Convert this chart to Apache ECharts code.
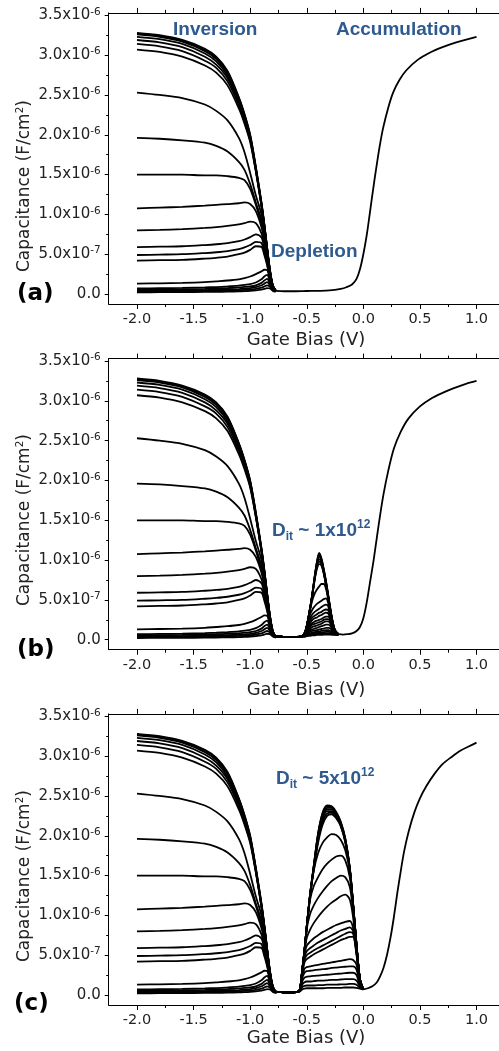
<!DOCTYPE html>
<html>
<head>
<meta charset="utf-8">
<script src="https://cdn.jsdelivr.net/npm/echarts@6/dist/echarts.min.js"></script>
<style>
  html, body { margin: 0; padding: 0; background: #fff; }
  #chart { width: 499px; height: 1051px; }
</style>
</head>
<body>
<div id="chart"></div>
<script>
// Multi-frequency C-V sweeps of a MOS capacitor, three interface-trap densities.
// Capacitance values are in units of 1e-6 F/cm^2.

// ---- Inversion / steep depletion side (shared by all three panels) ----
const gateBiasInversion = [-2.0, -1.8, -1.6, -1.4, -1.3, -1.2, -1.1, -1.05, -1.0, -0.95, -0.9, -0.875, -0.85, -0.825, -0.8, -0.775];
const inversionCurves = [
  [3.28, 3.25, 3.19, 3.08, 2.98, 2.80, 2.47, 2.26, 2.00, 1.60, 1.15, 0.88, 0.58, 0.30, 0.11, 0.045],
  [3.27, 3.24, 3.18, 3.07, 2.97, 2.79, 2.46, 2.25, 1.99, 1.59, 1.14, 0.87, 0.58, 0.30, 0.11, 0.045],
  [3.26, 3.23, 3.17, 3.05, 2.95, 2.77, 2.45, 2.24, 1.98, 1.58, 1.13, 0.87, 0.57, 0.29, 0.11, 0.045],
  [3.23, 3.20, 3.14, 3.02, 2.92, 2.74, 2.43, 2.22, 1.97, 1.57, 1.12, 0.86, 0.57, 0.29, 0.10, 0.045],
  [3.19, 3.16, 3.10, 2.98, 2.88, 2.71, 2.40, 2.20, 1.95, 1.56, 1.12, 0.86, 0.56, 0.29, 0.10, 0.045],
  [3.14, 3.11, 3.05, 2.93, 2.84, 2.67, 2.37, 2.17, 1.93, 1.55, 1.11, 0.85, 0.56, 0.28, 0.10, 0.045],
  [3.07, 3.04, 2.98, 2.87, 2.78, 2.62, 2.33, 2.14, 1.91, 1.54, 1.10, 0.84, 0.55, 0.28, 0.10, 0.045],
  [2.53, 2.50, 2.46, 2.38, 2.30, 2.18, 1.96, 1.78, 1.52, 1.24, 1.00, 0.78, 0.52, 0.26, 0.09, 0.04],
  [1.96, 1.95, 1.93, 1.90, 1.86, 1.79, 1.66, 1.56, 1.38, 1.15, 0.93, 0.74, 0.50, 0.25, 0.09, 0.04],
  [1.50, 1.50, 1.50, 1.49, 1.49, 1.48, 1.46, 1.43, 1.32, 1.12, 0.88, 0.71, 0.49, 0.25, 0.09, 0.04],
  [1.075, 1.085, 1.095, 1.11, 1.12, 1.13, 1.14, 1.15, 1.13, 1.04, 0.84, 0.68, 0.47, 0.24, 0.09, 0.04],
  [0.80, 0.805, 0.815, 0.83, 0.84, 0.855, 0.875, 0.89, 0.91, 0.89, 0.76, 0.61, 0.43, 0.22, 0.08, 0.04],
  [0.59, 0.595, 0.60, 0.615, 0.625, 0.64, 0.665, 0.685, 0.715, 0.75, 0.71, 0.58, 0.41, 0.21, 0.08, 0.04],
  [0.49, 0.495, 0.50, 0.515, 0.525, 0.54, 0.565, 0.585, 0.615, 0.655, 0.64, 0.53, 0.38, 0.20, 0.08, 0.04],
  [0.42, 0.425, 0.43, 0.445, 0.455, 0.47, 0.50, 0.52, 0.555, 0.60, 0.59, 0.49, 0.36, 0.19, 0.08, 0.04],
  [0.13, 0.135, 0.14, 0.15, 0.16, 0.17, 0.185, 0.20, 0.22, 0.25, 0.285, 0.305, 0.30, 0.19, 0.08, 0.04],
  [0.07, 0.073, 0.077, 0.083, 0.088, 0.095, 0.105, 0.115, 0.125, 0.145, 0.185, 0.22, 0.24, 0.16, 0.07, 0.04],
  [0.055, 0.057, 0.06, 0.065, 0.069, 0.075, 0.083, 0.089, 0.095, 0.11, 0.14, 0.17, 0.19, 0.13, 0.06, 0.035],
  [0.042, 0.044, 0.046, 0.05, 0.053, 0.057, 0.063, 0.068, 0.074, 0.087, 0.11, 0.13, 0.15, 0.11, 0.055, 0.035],
  [0.032, 0.033, 0.035, 0.038, 0.04, 0.043, 0.048, 0.052, 0.057, 0.066, 0.08, 0.095, 0.11, 0.09, 0.05, 0.03],
  [0.022, 0.023, 0.024, 0.026, 0.028, 0.03, 0.033, 0.036, 0.04, 0.046, 0.055, 0.065, 0.075, 0.07, 0.04, 0.03]
];

// ---- Panel (b): interface-trap peak, Dit ~ 1e12 ----
const gateBiasPeakB = [-0.75, -0.7, -0.6, -0.55, -0.52, -0.5, -0.47, -0.45, -0.43, -0.41, -0.39, -0.37, -0.35, -0.33, -0.31, -0.29, -0.27, -0.25, -0.22];
const peakCurvesB = [
  [0.04, 0.035, 0.035, 0.04, 0.08, 0.17, 0.40, 0.58, 0.79, 0.98, 1.09, 1.02, 0.89, 0.74, 0.56, 0.38, 0.22, 0.12, 0.07],
  [0.04, 0.035, 0.035, 0.04, 0.08, 0.17, 0.40, 0.58, 0.79, 0.97, 1.08, 1.01, 0.88, 0.73, 0.55, 0.37, 0.22, 0.12, 0.07],
  [0.04, 0.035, 0.035, 0.04, 0.08, 0.17, 0.40, 0.58, 0.79, 0.96, 1.06, 1.00, 0.87, 0.72, 0.55, 0.37, 0.21, 0.11, 0.07],
  [0.04, 0.035, 0.035, 0.04, 0.08, 0.17, 0.40, 0.58, 0.78, 0.95, 1.04, 0.99, 0.86, 0.71, 0.54, 0.36, 0.21, 0.11, 0.07],
  [0.04, 0.035, 0.035, 0.04, 0.08, 0.17, 0.40, 0.57, 0.77, 0.93, 1.01, 0.97, 0.85, 0.70, 0.53, 0.36, 0.21, 0.11, 0.07],
  [0.04, 0.035, 0.035, 0.04, 0.08, 0.17, 0.39, 0.57, 0.76, 0.91, 0.98, 0.95, 0.84, 0.69, 0.53, 0.35, 0.20, 0.11, 0.07],
  [0.04, 0.035, 0.035, 0.04, 0.08, 0.17, 0.39, 0.56, 0.75, 0.89, 0.95, 0.93, 0.83, 0.68, 0.52, 0.35, 0.20, 0.11, 0.07],
  [0.04, 0.035, 0.035, 0.04, 0.08, 0.17, 0.38, 0.50, 0.58, 0.63, 0.67, 0.70, 0.70, 0.64, 0.50, 0.34, 0.20, 0.11, 0.07],
  [0.04, 0.035, 0.035, 0.04, 0.08, 0.16, 0.32, 0.38, 0.42, 0.45, 0.47, 0.49, 0.51, 0.52, 0.46, 0.32, 0.19, 0.10, 0.07],
  [0.04, 0.035, 0.035, 0.04, 0.07, 0.14, 0.27, 0.32, 0.35, 0.37, 0.39, 0.41, 0.43, 0.44, 0.42, 0.30, 0.18, 0.10, 0.07],
  [0.04, 0.035, 0.035, 0.04, 0.07, 0.13, 0.24, 0.28, 0.30, 0.32, 0.34, 0.35, 0.37, 0.38, 0.37, 0.28, 0.17, 0.10, 0.07],
  [0.04, 0.035, 0.035, 0.04, 0.07, 0.12, 0.21, 0.25, 0.27, 0.28, 0.30, 0.31, 0.33, 0.34, 0.33, 0.26, 0.16, 0.09, 0.07],
  [0.04, 0.035, 0.035, 0.04, 0.06, 0.11, 0.18, 0.21, 0.23, 0.24, 0.25, 0.26, 0.28, 0.29, 0.29, 0.24, 0.15, 0.09, 0.07],
  [0.04, 0.035, 0.035, 0.04, 0.06, 0.10, 0.16, 0.19, 0.20, 0.21, 0.22, 0.23, 0.25, 0.26, 0.26, 0.22, 0.14, 0.09, 0.07],
  [0.04, 0.035, 0.035, 0.04, 0.06, 0.09, 0.14, 0.16, 0.17, 0.18, 0.19, 0.20, 0.22, 0.23, 0.23, 0.20, 0.13, 0.08, 0.07],
  [0.04, 0.035, 0.035, 0.04, 0.05, 0.08, 0.12, 0.13, 0.14, 0.15, 0.16, 0.17, 0.18, 0.19, 0.19, 0.17, 0.12, 0.08, 0.065],
  [0.04, 0.035, 0.035, 0.04, 0.05, 0.07, 0.10, 0.11, 0.115, 0.12, 0.13, 0.135, 0.14, 0.15, 0.15, 0.14, 0.10, 0.075, 0.065],
  [0.04, 0.035, 0.035, 0.04, 0.045, 0.06, 0.08, 0.09, 0.095, 0.10, 0.105, 0.11, 0.115, 0.12, 0.12, 0.11, 0.09, 0.07, 0.065],
  [0.04, 0.035, 0.035, 0.04, 0.045, 0.055, 0.07, 0.075, 0.08, 0.085, 0.09, 0.09, 0.095, 0.10, 0.10, 0.095, 0.08, 0.07, 0.065],
  [0.04, 0.035, 0.035, 0.04, 0.04, 0.05, 0.06, 0.065, 0.07, 0.07, 0.075, 0.075, 0.08, 0.08, 0.08, 0.08, 0.07, 0.065, 0.06],
  [0.04, 0.035, 0.035, 0.04, 0.04, 0.045, 0.05, 0.055, 0.055, 0.06, 0.06, 0.06, 0.065, 0.065, 0.065, 0.065, 0.06, 0.06, 0.06]
];

// ---- Panel (c): interface-trap peak, Dit ~ 5e12 ----
const gateBiasPeakC = [-0.75, -0.7, -0.62, -0.58, -0.56, -0.54, -0.52, -0.5, -0.47, -0.44, -0.4, -0.36, -0.32, -0.28, -0.24, -0.2, -0.16, -0.12, -0.09, -0.06, -0.03, 0.0];
const peakCurvesC = [
  [0.04, 0.035, 0.035, 0.04, 0.07, 0.31, 0.56, 0.86, 1.27, 1.60, 2.03, 2.29, 2.38, 2.37, 2.30, 2.18, 1.97, 1.60, 1.14, 0.63, 0.20, 0.07],
  [0.04, 0.035, 0.035, 0.04, 0.07, 0.31, 0.56, 0.86, 1.27, 1.60, 2.02, 2.28, 2.37, 2.36, 2.29, 2.17, 1.96, 1.60, 1.14, 0.63, 0.20, 0.07],
  [0.04, 0.035, 0.035, 0.04, 0.07, 0.31, 0.56, 0.86, 1.27, 1.59, 2.01, 2.26, 2.35, 2.35, 2.28, 2.16, 1.96, 1.59, 1.14, 0.63, 0.20, 0.07],
  [0.04, 0.035, 0.035, 0.04, 0.07, 0.31, 0.56, 0.86, 1.26, 1.59, 1.99, 2.24, 2.33, 2.33, 2.27, 2.15, 1.95, 1.59, 1.13, 0.63, 0.20, 0.07],
  [0.04, 0.035, 0.035, 0.04, 0.07, 0.31, 0.56, 0.86, 1.26, 1.58, 1.97, 2.21, 2.31, 2.31, 2.26, 2.14, 1.94, 1.58, 1.13, 0.62, 0.20, 0.07],
  [0.04, 0.035, 0.035, 0.04, 0.07, 0.31, 0.56, 0.86, 1.26, 1.57, 1.94, 2.18, 2.28, 2.29, 2.24, 2.13, 1.93, 1.58, 1.13, 0.62, 0.20, 0.07],
  [0.04, 0.035, 0.035, 0.04, 0.07, 0.31, 0.56, 0.86, 1.25, 1.55, 1.91, 2.14, 2.25, 2.27, 2.22, 2.12, 1.92, 1.57, 1.12, 0.62, 0.20, 0.07],
  [0.04, 0.035, 0.035, 0.04, 0.07, 0.31, 0.56, 0.86, 1.25, 1.55, 1.78, 1.91, 1.98, 2.02, 2.01, 1.95, 1.82, 1.55, 1.12, 0.62, 0.20, 0.07],
  [0.04, 0.035, 0.035, 0.04, 0.07, 0.31, 0.56, 0.85, 1.20, 1.36, 1.48, 1.58, 1.65, 1.70, 1.74, 1.75, 1.69, 1.48, 1.09, 0.61, 0.20, 0.07],
  [0.04, 0.035, 0.035, 0.04, 0.07, 0.31, 0.55, 0.83, 1.02, 1.12, 1.22, 1.30, 1.37, 1.43, 1.47, 1.50, 1.48, 1.36, 1.05, 0.60, 0.20, 0.07],
  [0.04, 0.035, 0.035, 0.04, 0.07, 0.30, 0.54, 0.72, 0.82, 0.90, 0.98, 1.05, 1.11, 1.16, 1.20, 1.24, 1.26, 1.20, 0.97, 0.58, 0.19, 0.07],
  [0.04, 0.035, 0.035, 0.04, 0.07, 0.30, 0.51, 0.62, 0.67, 0.71, 0.75, 0.79, 0.82, 0.85, 0.88, 0.90, 0.92, 0.93, 0.84, 0.55, 0.19, 0.07],
  [0.04, 0.035, 0.035, 0.04, 0.07, 0.29, 0.48, 0.55, 0.59, 0.62, 0.66, 0.69, 0.72, 0.75, 0.78, 0.81, 0.83, 0.85, 0.80, 0.53, 0.18, 0.07],
  [0.04, 0.035, 0.035, 0.04, 0.07, 0.28, 0.44, 0.50, 0.53, 0.56, 0.59, 0.62, 0.65, 0.68, 0.71, 0.74, 0.77, 0.79, 0.77, 0.52, 0.18, 0.07],
  [0.04, 0.035, 0.035, 0.04, 0.07, 0.27, 0.41, 0.45, 0.48, 0.51, 0.54, 0.57, 0.60, 0.63, 0.66, 0.69, 0.71, 0.73, 0.73, 0.50, 0.18, 0.07],
  [0.04, 0.035, 0.035, 0.04, 0.07, 0.24, 0.33, 0.35, 0.36, 0.37, 0.38, 0.39, 0.40, 0.41, 0.42, 0.43, 0.44, 0.45, 0.44, 0.38, 0.15, 0.07],
  [0.04, 0.035, 0.035, 0.04, 0.06, 0.21, 0.28, 0.30, 0.305, 0.31, 0.32, 0.325, 0.33, 0.34, 0.345, 0.35, 0.355, 0.36, 0.36, 0.32, 0.14, 0.07],
  [0.04, 0.035, 0.035, 0.04, 0.06, 0.17, 0.22, 0.23, 0.235, 0.24, 0.245, 0.25, 0.255, 0.26, 0.265, 0.27, 0.275, 0.28, 0.28, 0.25, 0.12, 0.07],
  [0.04, 0.035, 0.035, 0.04, 0.055, 0.13, 0.16, 0.17, 0.17, 0.175, 0.18, 0.18, 0.185, 0.19, 0.19, 0.195, 0.20, 0.20, 0.20, 0.18, 0.11, 0.07],
  [0.04, 0.035, 0.035, 0.04, 0.05, 0.10, 0.115, 0.12, 0.12, 0.12, 0.125, 0.125, 0.13, 0.13, 0.13, 0.135, 0.135, 0.14, 0.14, 0.13, 0.09, 0.07],
  [0.04, 0.035, 0.035, 0.04, 0.045, 0.07, 0.08, 0.085, 0.085, 0.085, 0.085, 0.085, 0.09, 0.09, 0.09, 0.09, 0.095, 0.095, 0.095, 0.09, 0.08, 0.07]
];

// ---- Accumulation branch (single merged curve per panel) ----
const gateBiasAccumA = [-0.775, -0.7, -0.6, -0.5, -0.4, -0.3, -0.2, -0.15, -0.1, -0.06, -0.03, 0.0, 0.03, 0.056, 0.085, 0.115, 0.145, 0.174, 0.22, 0.263, 0.32, 0.38, 0.48, 0.586, 0.7, 0.821, 1.0];
const accumA = [0.04, 0.035, 0.035, 0.038, 0.04, 0.045, 0.065, 0.085, 0.12, 0.19, 0.31, 0.50, 0.74, 1.00, 1.30, 1.59, 1.86, 2.08, 2.34, 2.53, 2.69, 2.81, 2.94, 3.03, 3.10, 3.16, 3.23];
const gateBiasAccumB = [-0.22, -0.18, -0.14, -0.1, -0.06, -0.03, 0.0, 0.03, 0.06, 0.09, 0.12, 0.15, 0.18, 0.22, 0.27, 0.33, 0.4, 0.5, 0.6, 0.7, 0.8, 0.9, 1.0];
const accumB = [0.07, 0.065, 0.07, 0.08, 0.11, 0.16, 0.27, 0.47, 0.73, 0.99, 1.29, 1.58, 1.84, 2.12, 2.40, 2.61, 2.78, 2.93, 3.03, 3.10, 3.16, 3.21, 3.25];
const gateBiasAccumC = [0.0, 0.04, 0.08, 0.12, 0.15, 0.18, 0.21, 0.24, 0.27, 0.3, 0.33, 0.36, 0.4, 0.45, 0.5, 0.56, 0.63, 0.7, 0.78, 0.86, 0.93, 1.0];
const accumC = [0.07, 0.085, 0.11, 0.16, 0.24, 0.35, 0.51, 0.72, 0.98, 1.28, 1.55, 1.80, 2.05, 2.29, 2.47, 2.63, 2.78, 2.90, 2.99, 3.07, 3.12, 3.17];

// ---- Axis ticks and labels ----
const xMajorTicks = [-2.0, -1.5, -1.0, -0.5, 0.0, 0.5, 1.0];
const xMinorTicks = [-1.75, -1.25, -0.75, -0.25, 0.25, 0.75];
const yMajorTicks = [0, 0.5, 1.0, 1.5, 2.0, 2.5, 3.0, 3.5];
const yMinorTicks = [0.25, 0.75, 1.25, 1.75, 2.25, 2.75, 3.25];
const yTickLabels = ['{m|0.0}', '{m|5.0x10}{sup|-7}', '{m|1.0x10}{sup|-6}', '{m|1.5x10}{sup|-6}', '{m|2.0x10}{sup|-6}', '{m|2.5x10}{sup|-6}', '{m|3.0x10}{sup|-6}', '{m|3.5x10}{sup|-6}'];
const panelLetters = ['(a)', '(b)', '(c)'];

// ---- Layout ----
const X_MIN = -2.25, X_MAX = 1.25, Y_MIN = -0.125, Y_MAX = 3.53;
const GRID_LEFT = 108.7, GRID_WIDTH = 396.1, GRID_HEIGHT = 291.1;
const GRID_TOPS = [12.9, 358.6, 713.9];
const AXIS_FONT = 'DejaVu Sans';
const TEXT_COLOR = '#222';
const NOTE_COLOR = '#2f5a8f';

const zip = (xs, ys) => xs.map((x, i) => [x, ys[i]]);

const grids = [], xAxes = [], yAxes = [], series = [];

function tickAxis(p, dim, position, values, len, withLine, labels) {
  const isX = dim === 'x';
  const ax = {
    type: 'value', gridIndex: p, position,
    min: isX ? X_MIN : Y_MIN, max: isX ? X_MAX : Y_MAX,
    axisLine: { show: withLine, onZero: false, lineStyle: { color: '#000', width: 1 } },
    axisTick: { show: true, inside: false, length: len, customValues: values, lineStyle: { color: '#000', width: 1 } },
    splitLine: { show: false },
    axisLabel: { show: false }
  };
  if (labels) {
    ax.axisLabel = isX ? {
      show: true, customValues: values, margin: 8,
      fontFamily: AXIS_FONT, fontSize: 14.5, color: TEXT_COLOR,
      formatter: v => v.toFixed(1)
    } : {
      show: true, customValues: values, margin: 8,
      fontFamily: AXIS_FONT, fontSize: 15, lineHeight: 18, color: TEXT_COLOR,
      formatter: v => yTickLabels[yMajorTicks.indexOf(v)],
      rich: {
        m: { fontFamily: AXIS_FONT, fontSize: 15, lineHeight: 18, color: TEXT_COLOR },
        sup: { fontFamily: AXIS_FONT, fontSize: 10.5, lineHeight: 15, verticalAlign: 'top', color: TEXT_COLOR }
      }
    };
  }
  return ax;
}

function lineSeries(p, data) {
  return {
    type: 'line', xAxisIndex: 4 * p, yAxisIndex: 2 * p, data,
    symbol: 'none', showSymbol: false, smooth: 0.3, silent: true,
    lineStyle: { color: '#000', width: 1.8 }, z: 3
  };
}

for (let p = 0; p < 3; p++) {
  grids.push({ left: GRID_LEFT, top: GRID_TOPS[p], width: GRID_WIDTH, height: GRID_HEIGHT, containLabel: false, outerBoundsMode: 'none' });
  xAxes.push(tickAxis(p, 'x', 'bottom', xMajorTicks, 5, true, true));
  xAxes.push(tickAxis(p, 'x', 'bottom', xMinorTicks, 3, false, false));
  xAxes.push(tickAxis(p, 'x', 'top', xMajorTicks, 5, true, false));
  xAxes.push(tickAxis(p, 'x', 'top', xMinorTicks, 3, false, false));
  yAxes.push(tickAxis(p, 'y', 'left', yMajorTicks, 4, true, true));
  yAxes.push(tickAxis(p, 'y', 'left', yMinorTicks, 2.5, false, false));
}

// Panel (a): inversion curves flow straight into the accumulation branch
inversionCurves.forEach(c => series.push(lineSeries(0, zip(gateBiasInversion, c))));
series.push(lineSeries(0, zip(gateBiasAccumA, accumA)));
// Panel (b)
inversionCurves.forEach((c, i) => series.push(lineSeries(1, zip(gateBiasInversion, c).concat(zip(gateBiasPeakB, peakCurvesB[i])))));
series.push(lineSeries(1, zip(gateBiasAccumB, accumB)));
// Panel (c)
inversionCurves.forEach((c, i) => series.push(lineSeries(2, zip(gateBiasInversion, c).concat(zip(gateBiasPeakC, peakCurvesC[i])))));
series.push(lineSeries(2, zip(gateBiasAccumC, accumC)));

// ---- Text overlays ----
const graphics = [];
const letterPos = [[17, 294], [17, 650], [14, 1004]];
const yTitleY = [186, 520, 876];
const xTitleY = [340, 690, 1038];
for (let p = 0; p < 3; p++) {
  graphics.push({ type: 'text', x: letterPos[p][0], y: letterPos[p][1], z: 10,
    style: { text: panelLetters[p], fontFamily: AXIS_FONT, fontWeight: 'bold', fontSize: 23, fill: '#000', align: 'left', verticalAlign: 'middle' } });
  graphics.push({ type: 'text', x: 306, y: xTitleY[p], z: 10,
    style: { text: 'Gate Bias (V)', fontFamily: AXIS_FONT, fontSize: 18, fill: TEXT_COLOR, align: 'center', verticalAlign: 'middle' } });
  graphics.push({ type: 'text', x: 25, y: yTitleY[p], rotation: Math.PI / 2, z: 10,
    style: { text: '{m|Capacitance (F/cm}{sup|2}{m|)}', align: 'center', verticalAlign: 'middle',
      rich: {
        m: { fontFamily: AXIS_FONT, fontSize: 17, lineHeight: 21, fill: TEXT_COLOR },
        sup: { fontFamily: AXIS_FONT, fontSize: 10.5, lineHeight: 15, verticalAlign: 'top', fill: TEXT_COLOR }
      } } });
}
const noteStyle = { fontFamily: 'Liberation Sans', fontWeight: 'bold', fontSize: 19, fill: NOTE_COLOR, align: 'left', verticalAlign: 'middle' };
graphics.push({ type: 'text', x: 173, y: 30, z: 10, style: Object.assign({ text: 'Inversion' }, noteStyle) });
graphics.push({ type: 'text', x: 336, y: 30, z: 10, style: Object.assign({ text: 'Accumulation' }, noteStyle) });
graphics.push({ type: 'text', x: 271, y: 252, z: 10, style: Object.assign({ text: 'Depletion' }, noteStyle) });
const ditRich = {
  m: { fontFamily: 'Liberation Sans', fontWeight: 'bold', fontSize: 19, lineHeight: 24, fill: NOTE_COLOR },
  sub: { fontFamily: 'Liberation Sans', fontWeight: 'bold', fontSize: 12, lineHeight: 12, verticalAlign: 'bottom', fill: NOTE_COLOR },
  sup: { fontFamily: 'Liberation Sans', fontWeight: 'bold', fontSize: 12, lineHeight: 12, verticalAlign: 'top', fill: NOTE_COLOR }
};
graphics.push({ type: 'text', x: 272, y: 531, z: 10,
  style: { text: '{m|D}{sub|it}{m| ~ 1x10}{sup|12}', rich: ditRich, align: 'left', verticalAlign: 'middle' } });
graphics.push({ type: 'text', x: 276, y: 779, z: 10,
  style: { text: '{m|D}{sub|it}{m| ~ 5x10}{sup|12}', rich: ditRich, align: 'left', verticalAlign: 'middle' } });

const chart = echarts.init(document.getElementById('chart'), null, { renderer: 'canvas' });
chart.setOption({
  animation: false,
  backgroundColor: '#fff',
  grid: grids,
  xAxis: xAxes,
  yAxis: yAxes,
  series,
  graphic: graphics
});
</script>
</body>
</html>
